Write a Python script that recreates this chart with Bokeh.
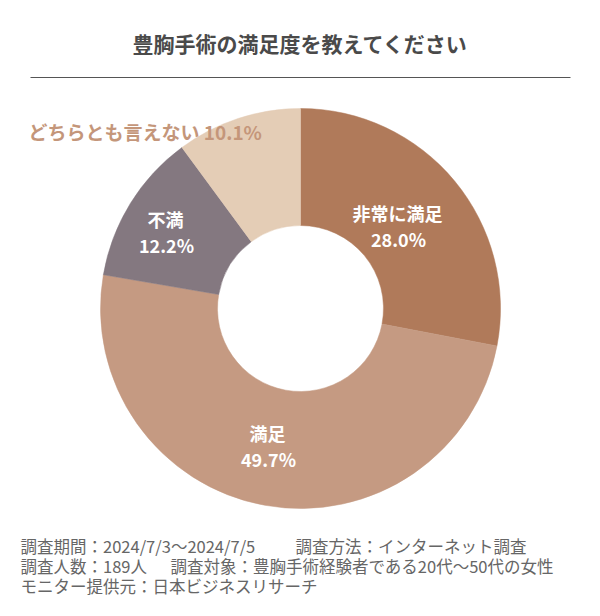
from bokeh.plotting import figure
from bokeh.models import Range1d, ColumnDataSource
from bokeh.core.properties import value
from bokeh.embed import file_html
from bokeh.resources import INLINE
import math

# ---- data ----
title = "豊胸手術の満足度を教えてください"
categories = ["非常に満足", "満足", "不満", "どちらとも言えない"]
percents = [28.0, 49.7, 12.2, 10.1]
colors = ["#B07A5A", "#C59A82", "#847880", "#E4CDB6"]
footer_segments = [
    ["調査期間：2024/7/3～2024/7/5", "調査方法：インターネット調査"],
    ["調査人数：189人", "調査対象：豊胸手術経験者である20代～50代の女性"],
    ["モニター提供元：日本ビジネスリサーチ"],
]

FONT = "Noto Sans CJK JP"
W, H = 584, 600

p = figure(width=W, height=H, x_range=Range1d(0, W), y_range=Range1d(0, H),
           output_backend="svg", toolbar_location=None, min_border=0)
p.axis.visible = False
p.grid.visible = False
p.outline_line_color = None
p.background_fill_color = "white"

# wedges, clockwise from 12 o'clock
total = sum(percents)
starts, ends = [], []
cum = 0.0
for v in percents:
    starts.append(math.pi / 2 - cum / total * 2 * math.pi)
    cum += v
    ends.append(math.pi / 2 - cum / total * 2 * math.pi)

cx, cy = 300, 292
src = ColumnDataSource(dict(start=starts, end=ends, color=colors))
p.annular_wedge(x=cx, y=cy, inner_radius=83, outer_radius=200,
                start_angle="start", end_angle="end", direction="clock",
                fill_color="color", line_color="color", line_width=0.5, source=src)

# title and rule
p.text(x=[300], y=[558], text=[title], text_align="center", text_baseline="middle",
       text_font=value(FONT), text_font_size="21px", text_font_style="bold",
       text_color="#4a4a4a")
p.line(x=[30, 570], y=[523, 523], line_color="#555555", line_width=1)

# in-slice labels (white)
lab_x = [397, 267, 165]
lab_y = [388, 168, 382]
for i in range(3):
    p.text(x=[lab_x[i]], y=[lab_y[i]], text=[categories[i]], text_align="center",
           text_baseline="middle", text_font=value(FONT), text_font_size="18px",
           text_font_style="bold", text_color="white")
    p.text(x=[lab_x[i] + 1], y=[lab_y[i] - 26], text=[f"{percents[i]:.1f}%"],
           text_align="center", text_baseline="middle", text_font=value(FONT),
           text_font_size="18px", text_font_style="bold", text_color="white")

# outside label
p.text(x=[28], y=[469], text=[f"{categories[3]} {percents[3]:.1f}%"], text_align="left",
       text_baseline="middle", text_font=value(FONT), text_font_size="19px",
       text_font_style="bold", text_color="#C4967A")

# footer
fy = [55, 35, 15]
fx = [[20, 295], [20, 170], [20]]
for segs, xs, yy in zip(footer_segments, fx, fy):
    for t, xx in zip(segs, xs):
        p.text(x=[xx], y=[yy], text=[t], text_align="left", text_baseline="middle",
               text_font=value(FONT), text_font_size="16.5px", text_color="#666666")

open("out.html", "w").write(file_html(p, INLINE))
